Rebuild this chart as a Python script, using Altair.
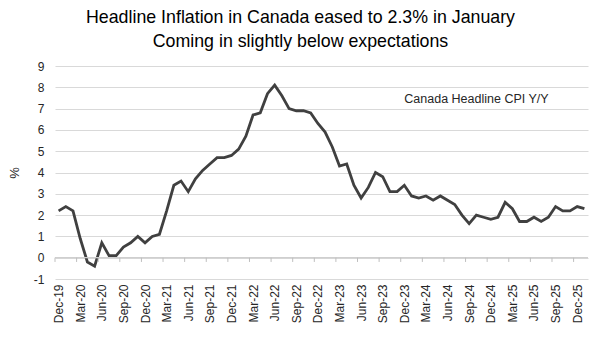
import altair as alt
import pandas as pd

months = ["Dec-19",
          "Jan-20", "Feb-20", "Mar-20", "Apr-20", "May-20", "Jun-20", "Jul-20", "Aug-20", "Sep-20", "Oct-20", "Nov-20", "Dec-20",
          "Jan-21", "Feb-21", "Mar-21", "Apr-21", "May-21", "Jun-21", "Jul-21", "Aug-21", "Sep-21", "Oct-21", "Nov-21", "Dec-21",
          "Jan-22", "Feb-22", "Mar-22", "Apr-22", "May-22", "Jun-22", "Jul-22", "Aug-22", "Sep-22", "Oct-22", "Nov-22", "Dec-22",
          "Jan-23", "Feb-23", "Mar-23", "Apr-23", "May-23", "Jun-23", "Jul-23", "Aug-23", "Sep-23", "Oct-23", "Nov-23", "Dec-23",
          "Jan-24", "Feb-24", "Mar-24", "Apr-24", "May-24", "Jun-24", "Jul-24", "Aug-24", "Sep-24", "Oct-24", "Nov-24", "Dec-24",
          "Jan-25", "Feb-25", "Mar-25", "Apr-25", "May-25", "Jun-25", "Jul-25", "Aug-25", "Sep-25", "Oct-25", "Nov-25", "Dec-25",
          "Jan-26"]

cpi = [2.2,
       2.4, 2.2, 0.9, -0.2, -0.4, 0.7, 0.1, 0.1, 0.5, 0.7, 1.0, 0.7,
       1.0, 1.1, 2.2, 3.4, 3.6, 3.1, 3.7, 4.1, 4.4, 4.7, 4.7, 4.8,
       5.1, 5.7, 6.7, 6.8, 7.7, 8.1, 7.6, 7.0, 6.9, 6.9, 6.8, 6.3,
       5.9, 5.2, 4.3, 4.4, 3.4, 2.8, 3.3, 4.0, 3.8, 3.1, 3.1, 3.4,
       2.9, 2.8, 2.9, 2.7, 2.9, 2.7, 2.5, 2.0, 1.6, 2.0, 1.9, 1.8,
       1.9, 2.6, 2.3, 1.7, 1.7, 1.9, 1.7, 1.9, 2.4, 2.2, 2.2, 2.4,
       2.3]

y_ticks = [-1, 0, 1, 2, 3, 4, 5, 6, 7, 8, 9]

title_lines = ["Headline Inflation in Canada eased to 2.3% in January",
               "Coming in slightly below expectations"]
series_label = "Canada Headline CPI Y/Y"

df = pd.DataFrame({"i": list(range(len(months))), "month": months, "cpi": cpi})

label_idx = list(range(0, len(months), 3))
label_expr = "[" + ",".join("'%s'" % m for m in months) + "][round(datum.value)]"

FONT = "Liberation Sans"

x_scale = alt.Scale(domain=[-0.5, len(months) - 0.5], nice=False, zero=False)
y_scale = alt.Scale(domain=[-1, 9], nice=False)

x_axis = alt.Axis(values=label_idx, labelExpr=label_expr, labelAngle=-90,
                  labelAlign="right", labelBaseline="middle",
                  labelFont=FONT, labelFontSize=12, labelColor="#262626",
                  labelPadding=5, labelOverlap=False, ticks=False, domain=False,
                  grid=False, title=None)
y_axis = alt.Axis(values=y_ticks,
                  labelExpr="datum.value < 0 ? '-' + abs(datum.value) : '' + datum.value",
                  labelFont=FONT, labelFontSize=12, labelOverlap=False,
                  labelColor="#262626", labelPadding=11, ticks=False, domain=False,
                  grid=True, gridColor="#d9d9d9", gridWidth=1.2,
                  title="%", titleFont=FONT, titleFontSize=13,
                  titleFontWeight="normal", titleColor="#262626",
                  titlePadding=12)

base = alt.Chart(df)

line = base.mark_line(color="#404040", strokeWidth=2.8).encode(
    x=alt.X("i:Q", scale=x_scale, axis=x_axis),
    y=alt.Y("cpi:Q", scale=y_scale, axis=y_axis),
)

tick_df = pd.DataFrame({"t": [k - 0.5 for k in label_idx], "y0": 0.0, "y1": -0.2})
ticks = alt.Chart(tick_df).mark_rule(color="#bfbfbf", strokeWidth=1).encode(
    x=alt.X("t:Q", scale=x_scale, axis=x_axis),
    y=alt.Y("y0:Q", scale=y_scale, axis=y_axis),
    y2="y1:Q",
)

zero = alt.Chart(pd.DataFrame({"z": [0]})).mark_rule(color="#cfcfcf", strokeWidth=1.2).encode(
    y=alt.Y("z:Q", scale=y_scale, axis=y_axis),
)

label = alt.Chart(pd.DataFrame({"x": [48.0], "y": [7.45], "t": [series_label]})).mark_text(
    align="left", baseline="middle", font=FONT, fontSize=12.5, color="#262626"
).encode(
    x=alt.X("x:Q", scale=x_scale, axis=x_axis),
    y=alt.Y("y:Q", scale=y_scale, axis=y_axis),
    text="t:N",
)

chart = alt.layer(line, zero, ticks, label).properties(
    width=533,
    height=213,
    autosize=alt.AutoSizeParams(type="none"),
    padding={"left": 47, "top": 58, "right": 4, "bottom": 80},
    title=alt.Title(title_lines, font=FONT, fontSize=17.8, fontWeight="normal",
                    color="#000000", anchor="middle", dx=-21, offset=9, lineHeight=24),
).configure_view(stroke=None)

chart.save("out.html", embed_options={"renderer": "svg", "actions": False})
